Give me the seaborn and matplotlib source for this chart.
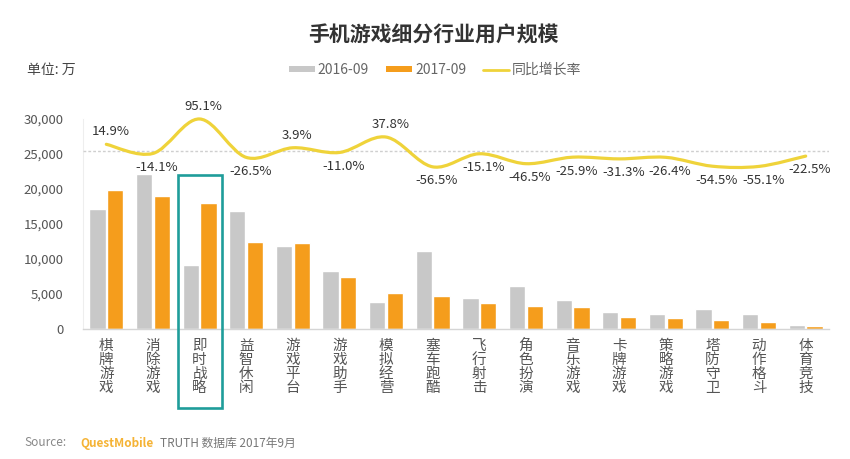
import matplotlib
matplotlib.use("Agg")
import matplotlib.pyplot as plt
import seaborn as sns
import pandas as pd
from matplotlib.path import Path
from matplotlib.patches import PathPatch, Patch, Rectangle
from matplotlib.lines import Line2D
from matplotlib.ticker import FuncFormatter

# data (unit: 10k users)
categories = ["棋牌游戏", "消除游戏", "即时战略", "益智休闲", "游戏平台", "游戏助手",
              "模拟经营", "塞车跑酷", "飞行射击", "角色扮演", "音乐游戏", "卡牌游戏",
              "策略游戏", "塔防守卫", "动作格斗", "体育竞技"]
users_2016 = [17200, 22200, 9200, 16900, 11900, 8300, 3800, 11100,
              4400, 6200, 4200, 2450, 2150, 2900, 2100, 620]
users_2017 = [19800, 19050, 17950, 12400, 12250, 7450, 5200, 4750,
              3750, 3250, 3150, 1680, 1580, 1320, 940, 480]
growth = [14.9, -14.1, 95.1, -26.5, 3.9, -11.0, 37.8, -56.5,
          -15.1, -46.5, -25.9, -31.3, -26.4, -54.5, -55.1, -22.5]
periods = ["2016-09", "2017-09"]
highlight = "即时战略"

GRAY = "#c8c8c8"
ORANGE = "#f59d1c"
YELLOW = "#efd33a"
TEAL = "#1f9d9a"
TXT = "#444444"

df = pd.DataFrame({
    "cat": categories * 2,
    "users": users_2016 + users_2017,
    "period": [periods[0]] * len(categories) + [periods[1]] * len(categories),
})

sns.set_theme(style="white")
plt.rcParams["font.family"] = ["Noto Sans CJK SC", "DejaVu Sans"]
plt.rcParams["axes.unicode_minus"] = False

fig = plt.figure(figsize=(8.5, 4.59), dpi=100)
fig.patch.set_facecolor("white")
ax = fig.add_axes([83 / 850, 1 - 329 / 459, (829 - 83) / 850, 210 / 459])

sns.barplot(data=df, x="cat", y="users", hue="period", palette=[GRAY, ORANGE],
            width=0.76, gap=0.08, saturation=1, legend=False, ax=ax)

ax.set_xlim(-0.5, len(categories) - 0.5)
ax.set_ylim(0, 30000)
ax.set_yticks(range(0, 30001, 5000))
ax.yaxis.set_major_formatter(FuncFormatter(lambda v, p: f"{int(v):,}"))
ax.set_xticks(range(len(categories)))
ax.set_xticklabels(["\n".join(c) for c in categories], fontsize=10.5,
                   linespacing=1.0, color="#555555", va="top")
ax.tick_params(axis="y", labelsize=9.5, labelcolor="#555555", length=0, pad=14)
ax.tick_params(axis="x", length=0, pad=7)
ax.set_xlabel("")
ax.set_ylabel("")
for s in ["top", "right"]:
    ax.spines[s].set_visible(False)
ax.spines["left"].set_color("#eeeeee")
ax.spines["left"].set_linewidth(0.8)
ax.spines["bottom"].set_color("#d5d5d5")
ax.spines["bottom"].set_linewidth(1.0)

# growth rate on a hidden secondary axis
ax2 = ax.twinx()
ax2.set_ylim(-570, 95)
ax2.set_xlim(ax.get_xlim())
ax2.axis("off")
ax2.axhline(-5, color="#cfcfcf", lw=1.0, ls=(0, (2, 1.5)), zorder=1)

# smoothed line (Catmull-Rom drawn as cubic Bezier segments)
pts = list(zip(range(len(growth)), growth))
verts = [pts[0]]
codes = [Path.MOVETO]
n = len(pts)
for i in range(n - 1):
    p0 = pts[max(i - 1, 0)]
    p1 = pts[i]
    p2 = pts[i + 1]
    p3 = pts[min(i + 2, n - 1)]
    c1 = (p1[0] + (p2[0] - p0[0]) / 6, p1[1] + (p2[1] - p0[1]) / 6)
    c2 = (p2[0] - (p3[0] - p1[0]) / 6, p2[1] - (p3[1] - p1[1]) / 6)
    verts += [c1, c2, p2]
    codes += [Path.CURVE4] * 3
ax2.add_patch(PathPatch(Path(verts, codes), facecolor="none", edgecolor=YELLOW,
                        lw=2.3, capstyle="round", zorder=3, clip_on=False))

for i, g in enumerate(growth):
    dy = 9 if g > 0 else -10
    ax2.annotate(f"{g:.1f}%", (i, g), xytext=(3, dy), textcoords="offset points",
                 ha="center", va="center", fontsize=9.5, color="#333333",
                 annotation_clip=False)

# highlight box
hi = categories.index(highlight)
ax.add_patch(Rectangle((hi - 0.46, -11300), 0.94, 22000 + 11300, fill=False,
                       edgecolor=TEAL, lw=1.9, clip_on=False, zorder=5))

# titles and legend
fig.text(0.51, 1 - 35 / 459, "手机游戏细分行业用户规模", ha="center", va="center",
         fontsize=15, fontweight="bold", color="#333333")
fig.text(27 / 850, 1 - 70 / 459, "单位: 万", ha="left", va="center",
         fontsize=10, color=TXT)

handles = [Patch(facecolor=GRAY, edgecolor="none"),
           Patch(facecolor=ORANGE, edgecolor="none"),
           Line2D([0], [0], color=YELLOW, lw=2)]
fig.legend(handles, periods + ["同比增长率"], loc="center",
           bbox_to_anchor=(435 / 850, 1 - 70 / 459), ncol=3, frameon=False,
           fontsize=10, handlelength=1.9, handleheight=0.35, handletextpad=0.2,
           columnspacing=1.2, labelcolor="#666666")

# source line
ys = 1 - 443 / 459
fig.text(24 / 850, ys, "Source:", fontsize=8.5, color="#888888", va="center")
fig.text(80 / 850, ys, "QuestMobile", fontsize=8.5, color="#f5b335",
         fontweight="bold", va="center")
fig.text(160 / 850, ys, "TRUTH 数据库 2017年9月", fontsize=8.5, color="#777777",
         va="center")

fig.savefig("out.png", dpi=100, facecolor="white")
